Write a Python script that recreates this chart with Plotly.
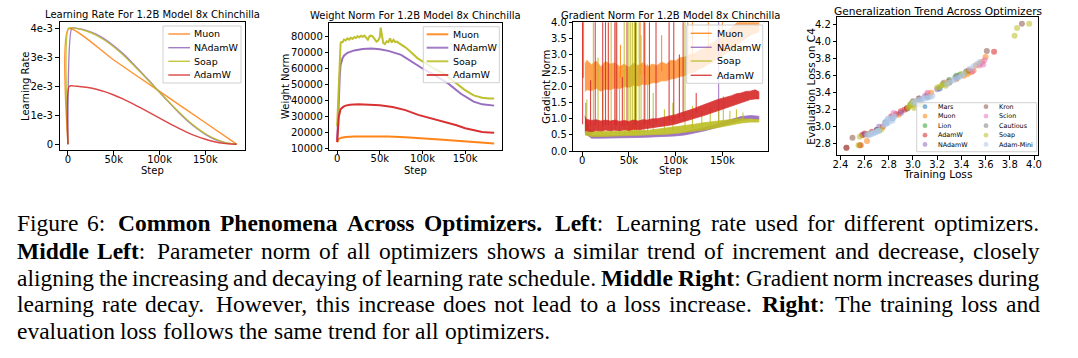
import numpy as np
import plotly.graph_objects as go

W, H = 1078, 358
OFF = 0  # body margin removed by post_script below


def fx(px):
    return (px - OFF) / W


def fy(py):
    return 1 - (py - OFF) / H


# ------------------------------------------------------------------ DATA
optimizers = ["Muon", "NAdamW", "Soap", "AdamW"]
opt_colors = ["#ff7f0e", "#9467bd", "#bcbd22", "#d62728"]

# --- Panel 1: learning rate schedules
lr_step_muon = [0, 1000, 50000, 100000, 150000, 184000]
lr_muon = [0, 3.98e-3, 2.90e-3, 1.82e-3, 0.74e-3, 0]
lr_step_nadamw = [0, 4400, 10000, 20000, 30000, 40000, 50000, 60000, 70000, 80000, 90000,
                  100000, 110000, 120000, 130000, 140000, 150000, 160000, 170000, 180000, 184000]
lr_nadamw = [0, 4.0e-3, 3.99e-3, 3.92e-3, 3.80e-3, 3.62e-3, 3.39e-3, 3.12e-3, 2.81e-3, 2.48e-3, 2.14e-3,
             1.79e-3, 1.45e-3, 1.12e-3, 0.82e-3, 0.56e-3, 0.34e-3, 0.17e-3, 0.06e-3, 0.01e-3, 0]
lr_step_soap = [0, 800, 10000, 20000, 30000, 40000, 50000, 60000, 70000, 80000, 90000,
                100000, 110000, 120000, 130000, 140000, 150000, 160000, 170000, 180000, 184000]
lr_soap = [0, 4.0e-3, 3.98e-3, 3.90e-3, 3.77e-3, 3.58e-3, 3.35e-3, 3.08e-3, 2.77e-3, 2.45e-3, 2.12e-3,
           1.79e-3, 1.46e-3, 1.14e-3, 0.84e-3, 0.58e-3, 0.36e-3, 0.19e-3, 0.07e-3, 0.01e-3, 0]
lr_step_adamw = [0, 1500, 10000, 20000, 30000, 40000, 50000, 60000, 70000, 80000, 90000,
                 100000, 110000, 120000, 130000, 140000, 150000, 160000, 170000, 180000, 184000]
lr_adamw = [0, 2.0e-3, 1.995e-3, 1.96e-3, 1.90e-3, 1.81e-3, 1.695e-3, 1.56e-3, 1.405e-3, 1.24e-3, 1.07e-3,
            0.895e-3, 0.725e-3, 0.56e-3, 0.41e-3, 0.28e-3, 0.17e-3, 0.085e-3, 0.03e-3, 0.003e-3, 0]

# --- Panel 2: weight norm
wn_step_muon = [0, 2000, 5000, 10000, 20000, 40000, 60000, 80000, 94000, 120000, 140000, 160000, 175000, 184000]
wn_muon = [14000, 16000, 16800, 17200, 17500, 17600, 17500, 17000, 16600, 15700, 14800, 13900, 13300, 13100]
wn_step_nadamw = [0, 1000, 2000, 3000, 4000, 6000, 8000, 12000, 20000, 30000, 40000, 50000, 60000,
                  75000, 90000, 100000, 115000, 130000, 145000, 160000, 170000, 178000, 184000]
wn_nadamw = [15000, 25000, 40000, 55000, 62000, 66000, 68000, 69800, 71300, 72200, 72500, 72000, 71000,
             68500, 63200, 60000, 55500, 50700, 44200, 39300, 37600, 37000, 36800]
wn_step_soap = [0, 1000, 2000, 3000, 4000, 5000, 6000, 8000, 10000, 12000, 14000, 16000, 18000, 20000,
                22000, 24000, 26000, 28000, 30000, 32000, 34000, 36000, 38000, 40000, 42000, 44000,
                46000, 48000, 50000, 51000, 52000, 53000, 54000, 56000, 58000, 60000, 62000, 64000,
                66000, 68000, 70000, 72000, 76000, 80000, 86000, 94000, 100000, 110000, 126000,
                140000, 149000, 160000, 170000, 178000, 184000]
wn_soap = [24000, 40000, 55000, 70000, 75500, 77000, 76000, 78000, 77500, 78800, 78000, 79200, 78500, 79600,
           79000, 80200, 79500, 80400, 79800, 80600, 79000, 78000, 80200, 80500, 79800, 78500,
           76800, 77500, 79500, 85500, 83000, 79000, 76000, 75200, 77000, 76500, 78800, 76200,
           77900, 76500, 76800, 76000, 74800, 73200, 70500, 66500, 64500, 61000, 56500,
           50500, 46800, 43200, 41700, 41300, 41200]
wn_step_adamw = [0, 1000, 2000, 4000, 7000, 10000, 15000, 25000, 35000, 50000, 65000, 80000, 95000,
                 110000, 125000, 140000, 150000, 160000, 170000, 178000, 184000]
wn_adamw = [14000, 22000, 30000, 34500, 36000, 36800, 37300, 37700, 37500, 37000, 36000, 34000, 31000,
            28800, 27000, 24500, 22700, 21300, 20300, 20000, 19800]

# --- Panel 3: gradient norm (noise band low/high + spikes)
gn_step_fine = [3000, 5000, 10000, 15000, 20000, 25000, 30000, 35000, 40000, 45000, 50000, 55000, 60000,
                65000, 70000, 75000, 80000, 85000, 90000, 95000, 100000, 105000, 110000, 115000, 120000,
                125000, 130000, 135000, 140000, 145000, 150000, 155000, 160000, 165000, 170000, 175000,
                180000, 185000, 189000]
gn_muon_lo = [1.85, 1.90, 1.88, 1.95, 1.86, 1.93, 1.90, 1.96, 1.94, 2.00, 1.98, 2.04, 2.02,
              2.08, 2.06, 2.12, 2.12, 2.18, 2.18, 2.24, 2.26, 2.32, 2.34, 2.42, 2.45,
              2.55, 2.60, 2.70, 2.76, 2.88, 2.95, 3.06, 3.15, 3.28, 3.40, 3.50,
              3.60, 3.66, 3.70]
gn_muon_hi = [2.70, 2.82, 2.68, 2.80, 2.62, 2.78, 2.70, 2.74, 2.62, 2.70, 2.60, 2.72, 2.66,
              2.74, 2.62, 2.70, 2.66, 2.76, 2.70, 2.82, 2.80, 2.90, 2.92, 3.00, 3.02,
              3.12, 3.18, 3.30, 3.36, 3.50, 3.58, 3.72, 3.84, 3.98, 4.10, 4.20,
              4.30, 4.35, 4.40]
gn_adamw_lo = [0.62, 0.63, 0.60, 0.64, 0.62, 0.65, 0.63, 0.65, 0.63, 0.66, 0.64, 0.67, 0.66,
               0.68, 0.69, 0.71, 0.73, 0.76, 0.78, 0.81, 0.84, 0.88, 0.92, 0.96, 1.00,
               1.05, 1.10, 1.15, 1.20, 1.25, 1.30, 1.35, 1.40, 1.45, 1.50, 1.55,
               1.60, 1.62, 1.62]
gn_adamw_hi = [1.05, 0.98, 0.95, 0.97, 0.93, 0.96, 0.93, 0.96, 0.92, 0.95, 0.92, 0.96, 0.93,
               0.97, 0.96, 1.00, 1.00, 1.05, 1.06, 1.10, 1.13, 1.18, 1.22, 1.28, 1.32,
               1.38, 1.43, 1.50, 1.55, 1.60, 1.64, 1.69, 1.72, 1.78, 1.80, 1.85,
               1.86, 1.90, 1.84]
gn_step = [3000, 10000, 20000, 30000, 40000, 50000, 60000, 70000, 80000, 90000, 100000,
           110000, 120000, 130000, 140000, 150000, 160000, 170000, 180000, 189000]
gn_nadamw_lo = [0.55, 0.40, 0.40, 0.40, 0.41, 0.41, 0.42, 0.43, 0.44, 0.45, 0.47,
                0.50, 0.55, 0.62, 0.70, 0.79, 0.88, 0.96, 1.00, 0.98]
gn_nadamw_hi = [1.10, 0.48, 0.47, 0.47, 0.48, 0.48, 0.49, 0.50, 0.51, 0.52, 0.54,
                0.58, 0.64, 0.72, 0.80, 0.90, 0.99, 1.07, 1.10, 1.08]
gn_soap_lo = [0.50, 0.45, 0.45, 0.46, 0.46, 0.47, 0.48, 0.48, 0.50, 0.52, 0.55,
              0.58, 0.61, 0.65, 0.70, 0.76, 0.82, 0.87, 0.90, 0.90]
gn_soap_hi = [0.90, 0.62, 0.60, 0.61, 0.62, 0.62, 0.63, 0.64, 0.67, 0.70, 0.75,
              0.79, 0.83, 0.88, 0.92, 0.95, 0.98, 1.00, 1.00, 0.98]
# spikes: (step, peak value)
spk_muon_step = [500, 1500, 41000, 62000, 66000, 85000, 113000, 118000, 135000, 150000]
spk_muon_val = [4.5, 4.5, 3.3, 4.5, 4.5, 3.6, 4.5, 4.5, 4.5, 4.5]
spk_nadamw_step = [4000, 146000]
spk_nadamw_val = [1.5, 4.5]
spk_soap_step = [5000, 12000, 17000, 22000, 31000, 36000, 40000, 45000, 50000, 52000, 54000, 56000,
                 58000, 61000, 63000, 66000, 70000, 76000, 88000, 97000, 110000, 118000, 128000,
                 137000, 146000, 151000, 158000, 165000, 172000]
spk_soap_val = [1.6, 4.5, 2.9, 2.2, 4.5, 4.5, 2.4, 4.5, 4.5, 4.5, 4.5, 4.5,
                4.5, 4.5, 3.6, 4.5, 2.7, 1.8, 1.3, 1.5, 4.5, 1.4, 1.25,
                1.35, 1.3, 1.7, 1.25, 1.3, 1.2]
spk_adamw_step = [500, 9000, 14000, 22000, 25000, 28000, 35000, 37000, 43000, 48000, 57000, 67000,
                  72000, 79000, 93000, 98000, 104000, 108000, 122000]
spk_adamw_val = [4.5, 2.2, 4.5, 4.5, 4.5, 4.5, 4.5, 4.5, 2.3, 4.5, 4.5, 4.5,
                 4.5, 4.5, 4.5, 4.5, 3.0, 4.5, 1.8]

# --- Panel 4: generalization scatter (training loss, eval loss on C4)
sc_names = ["Mars", "Muon", "Lion", "AdamW", "NAdamW", "Kron", "Scion", "Cautious", "Soap", "Adam-Mini"]
sc_colors = ["#1f77b4", "#ff7f0e", "#2ca02c", "#d62728", "#9467bd", "#8c564b", "#e377c2", "#7f7f7f",
             "#bcbd22", "#aec7e8"]
tr_mars = [2.63, 2.70, 2.78, 2.83, 2.95, 3.05, 3.12, 3.22, 3.30, 3.36, 3.44]
ev_mars = [2.91, 2.96, 3.05, 3.10, 3.21, 3.30, 3.35, 3.45, 3.52, 3.57, 3.65]
tr_muon = [2.57, 2.62, 2.59, 2.88, 3.12, 3.15, 3.36, 3.42, 3.45, 3.48, 3.50, 3.52, 3.55, 3.57, 3.60]
ev_muon = [2.78, 2.83, 2.90, 3.14, 3.38, 3.40, 3.56, 3.60, 3.62, 3.64, 3.66, 3.72, 3.74, 3.76, 3.82]
tr_lion = [2.98, 3.25, 3.30, 3.36, 3.39]
ev_lion = [3.26, 3.51, 3.55, 3.60, 3.61]
tr_adamw = [2.45, 2.56, 2.58, 2.60, 2.66, 2.75, 2.82, 2.86, 2.90, 2.93, 2.95, 3.05, 3.30, 3.46, 3.67]
ev_adamw = [2.75, 2.78, 2.90, 2.92, 2.94, 3.00, 3.12, 3.15, 3.18, 3.20, 3.22, 3.33, 3.53, 3.66, 3.88]
tr_nadamw = [2.60, 2.72, 2.90, 3.10, 3.20, 3.38]
ev_nadamw = [2.91, 3.00, 3.16, 3.36, 3.44, 3.60]
tr_kron = [2.45, 2.50, 2.70, 3.00, 3.61, 3.90]
ev_kron = [2.75, 2.87, 2.96, 3.30, 3.89, 4.21]
tr_scion = [2.84, 3.12, 3.26, 3.49, 3.55, 3.58, 3.59]
ev_scion = [3.16, 3.40, 3.52, 3.65, 3.72, 3.73, 3.78]
tr_cautious = [2.77, 3.05, 3.35]
ev_cautious = [3.05, 3.33, 3.58]
tr_soap = [2.55, 2.56, 2.63, 2.72, 2.74, 2.96, 2.97, 2.98, 2.99, 3.00, 3.01, 3.02, 3.03, 3.05, 3.06,
           3.20, 3.22, 3.24, 3.26, 3.28, 3.30, 3.27, 3.40, 3.44, 3.84, 3.86, 3.96]
ev_soap = [2.78, 2.88, 2.91, 2.95, 2.97, 3.22, 3.24, 3.26, 3.28, 3.25, 3.22, 3.29, 3.27, 3.30, 3.26,
           3.46, 3.47, 3.49, 3.50, 3.51, 3.52, 3.48, 3.62, 3.64, 4.07, 4.16, 4.21]
tr_adammini = [2.62, 2.64, 2.65, 2.66, 2.67, 2.68, 2.69, 2.70, 2.71, 2.72,
               2.76, 2.77, 2.78, 2.79, 2.80, 2.82, 2.84, 2.78, 2.80, 2.83, 2.85,
               3.00, 3.02, 3.04, 3.06, 3.08, 3.10, 3.12, 3.14, 3.16, 3.03, 3.07,
               3.28, 3.30, 3.32, 3.34, 3.36, 3.38, 3.40, 3.42,
               3.47, 3.50, 3.53, 3.55]
ev_adammini = [2.90, 2.90, 2.91, 2.92, 2.92, 2.93, 2.93, 2.94, 2.95, 2.95,
               3.02, 3.04, 3.07, 3.09, 3.10, 3.10, 3.11, 3.03, 3.05, 3.07, 3.12,
               3.28, 3.30, 3.31, 3.32, 3.33, 3.33, 3.34, 3.35, 3.36, 3.27, 3.29,
               3.50, 3.52, 3.54, 3.55, 3.57, 3.58, 3.60, 3.62,
               3.68, 3.71, 3.74, 3.76]
sc_train = [tr_mars, tr_muon, tr_lion, tr_adamw, tr_nadamw, tr_kron, tr_scion, tr_cautious, tr_soap, tr_adammini]
sc_eval = [ev_mars, ev_muon, ev_lion, ev_adamw, ev_nadamw, ev_kron, ev_scion, ev_cautious, ev_soap, ev_adammini]

step_ticks = [0, 50000, 100000, 150000]
step_ticktext = ["0", "50k", "100k", "150k"]

caption_lines = [
    "Figure 6: <b>Common Phenomena Across Optimizers.</b> <b>Left</b>: Learning rate used for different optimizers.",
    "<b>Middle Left</b>: Parameter norm of all optimizers shows a similar trend of increment and decrease, closely",
    "aligning the increasing and decaying of learning rate schedule. <b>Middle Right</b>: Gradient norm increases during",
    "learning rate decay. However, this increase does not lead to a loss increase. <b>Right</b>: The training loss and",
    "evaluation loss follows the same trend for all optimizers.",
]
caption_justified = [True, True, True, True, False]

# ------------------------------------------------------------------ FIGURE
fig = go.Figure()

FONT = "DejaVu Sans"


def axis_style(size=10):
    return dict(showline=True, mirror=True, linecolor="black", linewidth=1, ticks="outside",
                ticklen=3.5, tickwidth=0.9, tickcolor="black", showgrid=False, zeroline=False,
                automargin=False, tickfont=dict(family=FONT, size=size, color="black"))


# Panel 1
lr_data = [(lr_step_muon, lr_muon), (lr_step_nadamw, lr_nadamw), (lr_step_soap, lr_soap),
           (lr_step_adamw, lr_adamw)]
for name, col, (xs, ys) in zip(optimizers, opt_colors, lr_data):
    fig.add_trace(go.Scatter(x=xs, y=ys, mode="lines", name=name, showlegend=False,
                             line=dict(color=col, width=1.4, shape="spline", smoothing=0.6),
                             opacity=0.85, xaxis="x", yaxis="y"))

# Panel 2
wn_data = [(wn_step_muon, wn_muon), (wn_step_nadamw, wn_nadamw), (wn_step_soap, wn_soap),
           (wn_step_adamw, wn_adamw)]
for name, col, (xs, ys) in zip(optimizers, opt_colors, wn_data):
    fig.add_trace(go.Scatter(x=xs, y=ys, mode="lines", name=name, showlegend=False,
                             line=dict(color=col, width=2.0), opacity=0.95, xaxis="x2", yaxis="y2"))

# Panel 3
gn_bands = [(gn_step_fine, gn_muon_lo, gn_muon_hi), (gn_step, gn_nadamw_lo, gn_nadamw_hi),
            (gn_step, gn_soap_lo, gn_soap_hi), (gn_step_fine, gn_adamw_lo, gn_adamw_hi)]
gn_spikes = [(spk_muon_step, spk_muon_val), (spk_nadamw_step, spk_nadamw_val),
             (spk_soap_step, spk_soap_val), (spk_adamw_step, spk_adamw_val)]
band_opacity = [0.72, 0.9, 0.9, 0.9]
for name, col, (bx, lo, hi), (ss, sv), bo in zip(optimizers, opt_colors, gn_bands, gn_spikes, band_opacity):
    mid = (np.array(lo) + np.array(hi)) / 2
    base = np.interp(ss, bx, mid)
    sx, sy = [], []
    for s, b, v in zip(ss, base, sv):
        sx += [s, s, None]
        sy += [b, v, None]
    fig.add_trace(go.Scatter(x=sx, y=sy, mode="lines", showlegend=False,
                             line=dict(color=col, width=1.1), opacity=0.85, xaxis="x3", yaxis="y3"))
    px_ = list(bx) + list(bx)[::-1]
    py_ = list(lo) + list(hi)[::-1]
    fig.add_trace(go.Scatter(x=px_, y=py_, mode="lines", fill="toself", fillcolor=col, showlegend=False,
                             line=dict(color=col, width=0.8), opacity=bo, xaxis="x3", yaxis="y3"))

# Panel 4
for name, col, tr, ev in zip(sc_names, sc_colors, sc_train, sc_eval):
    fig.add_trace(go.Scatter(x=tr, y=ev, mode="markers", name=name, showlegend=False,
                             marker=dict(color=col, size=6, opacity=0.55, line=dict(width=0)),
                             xaxis="x4", yaxis="y4"))

# ------------------------------------------------------------------ AXES
dom = {
    1: ((59.5, 245.0), (22.3, 150.0)),
    2: ((329.3, 502.0), (22.7, 149.5)),
    3: ((573.3, 767.7), (22.3, 151.0)),
    4: ((837.3, 1038.3), (16.7, 155.0)),
}
layout = {}
for i, ((x0, x1), (y0, y1)) in dom.items():
    sfx = "" if i == 1 else str(i)
    layout["xaxis" + sfx] = dict(domain=[fx(x0), fx(x1)], anchor="y" + sfx, ticklabelstandoff=-4,
                                 **axis_style())
    layout["yaxis" + sfx] = dict(domain=[fy(y1), fy(y0)], anchor="x" + sfx, **axis_style())

layout["xaxis"].update(range=[-9200, 193200], tickvals=step_ticks, ticktext=step_ticktext)
layout["yaxis"].update(range=[-0.2e-3, 4.2e-3], tickvals=[0, 1e-3, 2e-3, 3e-3, 4e-3],
                       ticktext=["0", "1e-3", "2e-3", "3e-3", "4e-3"])
layout["xaxis2"].update(range=[-9200, 193200], tickvals=step_ticks, ticktext=step_ticktext)
layout["yaxis2"].update(range=[9400, 88600], tickvals=[10000, 20000, 30000, 40000, 50000, 60000, 70000, 80000],
                        ticktext=["10000", "20000", "30000", "40000", "50000", "60000", "70000", "80000"])
layout["xaxis3"].update(range=[-9450, 198450], tickvals=step_ticks, ticktext=step_ticktext)
layout["yaxis3"].update(range=[0, 4.0], tick0=0, dtick=0.5, tickformat=".1f")
layout["xaxis4"].update(range=[2.3745, 4.0355], tickvals=[2.4, 2.6, 2.8, 3.0, 3.2, 3.4, 3.6, 3.8, 4.0],
                        tickformat=".1f")
layout["yaxis4"].update(range=[2.666, 4.294], tickvals=[2.8, 3.0, 3.2, 3.4, 3.6, 3.8, 4.0, 4.2],
                        tickformat=".1f")

annotations = []
shapes = []


def text(px, py, s, size=10, angle=0, xanchor="center", yanchor="middle", family=FONT):
    annotations.append(dict(x=fx(px), y=fy(py), xref="paper", yref="paper", text=s, showarrow=False,
                            xanchor=xanchor, yanchor=yanchor, textangle=angle, borderpad=0, borderwidth=0,
                            font=dict(family=family, size=size, color="black")))


# titles
text(152.2, 14.8, "Learning Rate For 1.2B Model 8x Chinchilla")
text(415.6, 15.5, "Weight Norm For 1.2B Model 8x Chinchilla")
text(670.5, 15.0, "Gradient Norm For 1.2B Model 8x Chinchilla")
text(937.8, 10.8, "Generalization Trend Across Optimizers", size=10.6)
# axis labels
text(25, 86, "Learning Rate", angle=-90)
text(152.2, 170, "Step")
text(286, 87, "Weight Norm", angle=-90)
text(415.6, 170, "Step")
text(546.7, 87, "Gradient Norm", angle=-90)
text(670.5, 170.7, "Step")
text(810.7, 86, "Evaluation Loss on C4", size=10.6, angle=-90)
text(937.8, 173.5, "Training Loss", size=10.6)


# legends for line panels
def line_legend(box, rows, lx0, lx1, tx, lw):
    x0, y0, x1, y1 = box
    shapes.append(dict(type="rect", xref="paper", yref="paper", x0=fx(x0), x1=fx(x1), y0=fy(y1), y1=fy(y0),
                       line=dict(color="#d0d0d0", width=1), fillcolor="rgba(255,255,255,0.8)", layer="above"))
    for name, col, ry in zip(optimizers, opt_colors, rows):
        shapes.append(dict(type="line", xref="paper", yref="paper", x0=fx(lx0), x1=fx(lx1), y0=fy(ry), y1=fy(ry),
                           line=dict(color=col, width=lw), opacity=0.85, layer="above"))
        text(tx, ry, name, size=9.5, xanchor="left")


line_legend((163, 26, 241, 83), [34, 47.7, 61.3, 75], 168.3, 190, 194.3, 1.4)
line_legend((423.3, 26.7, 499.3, 82.7), [34.3, 47.7, 61.3, 75], 426.7, 448.3, 453.3, 2.0)
line_legend((686.7, 25, 762.7, 83.3), [33.3, 47.3, 61, 75.3], 690.7, 711.7, 716.7, 1.4)

# scatter legend
shapes.append(dict(type="rect", xref="paper", yref="paper", x0=fx(916.7), x1=fx(1036.7), y0=fy(151.7),
                   y1=fy(102.7), line=dict(color="#d0d0d0", width=1), fillcolor="rgba(255,255,255,0.8)",
                   layer="above"))
leg_rows = [106.7, 116.2, 125.7, 135.2, 144.5]
for k, (name, col) in enumerate(zip(sc_names, sc_colors)):
    colx, textx = (925, 937.7) if k < 5 else (986, 998.7)
    ry = leg_rows[k % 5]
    r = 2.4
    shapes.append(dict(type="circle", xref="paper", yref="paper", x0=fx(colx - r), x1=fx(colx + r),
                       y0=fy(ry + r), y1=fy(ry - r), fillcolor=col, opacity=0.55, line=dict(width=0),
                       layer="above"))
    text(textx, ry, name, size=6.4, xanchor="left")

# ------------------------------------------------------------------ CAPTION (justified, word by word)
_TR = {' ': 250, '.': 250, ',': 250, ':': 278, '-': 333, '0': 500, '1': 500, '2': 500, '3': 500,
       '4': 500, '5': 500, '6': 500, '7': 500, '8': 500, '9': 500,
       'a': 444, 'b': 500, 'c': 444, 'd': 500, 'e': 444, 'f': 333, 'g': 500, 'h': 500, 'i': 278,
       'j': 278, 'k': 500, 'l': 278, 'm': 778, 'n': 500, 'o': 500, 'p': 500, 'q': 500, 'r': 333,
       's': 389, 't': 278, 'u': 500, 'v': 500, 'w': 722, 'x': 500, 'y': 500, 'z': 444,
       'A': 722, 'B': 667, 'C': 667, 'D': 722, 'E': 611, 'F': 556, 'G': 722, 'H': 722, 'I': 333,
       'J': 389, 'K': 722, 'L': 611, 'M': 889, 'N': 722, 'O': 722, 'P': 556, 'Q': 722, 'R': 667,
       'S': 556, 'T': 611, 'U': 722, 'V': 722, 'W': 944, 'X': 722, 'Y': 722, 'Z': 611}
_TB = {' ': 250, '.': 250, ',': 250, ':': 333, '-': 333, '0': 500, '1': 500, '2': 500, '3': 500,
       '4': 500, '5': 500, '6': 500, '7': 500, '8': 500, '9': 500,
       'a': 500, 'b': 556, 'c': 444, 'd': 556, 'e': 444, 'f': 333, 'g': 500, 'h': 556, 'i': 278,
       'j': 333, 'k': 556, 'l': 278, 'm': 833, 'n': 556, 'o': 500, 'p': 556, 'q': 556, 'r': 444,
       's': 389, 't': 333, 'u': 556, 'v': 500, 'w': 722, 'x': 500, 'y': 500, 'z': 444,
       'A': 722, 'B': 667, 'C': 722, 'D': 722, 'E': 667, 'F': 611, 'G': 778, 'H': 778, 'I': 389,
       'J': 500, 'K': 778, 'L': 667, 'M': 944, 'N': 722, 'O': 778, 'P': 611, 'Q': 778, 'R': 722,
       'S': 556, 'T': 667, 'U': 722, 'V': 722, 'W': 1000, 'X': 722, 'Y': 722, 'Z': 667}


def parse_words(line):
    words, cur, buf, bold, i = [], [], "", False, 0
    while i < len(line):
        if line.startswith("<b>", i):
            if buf:
                cur.append((buf, bold))
                buf = ""
            bold, i = True, i + 3
            continue
        if line.startswith("</b>", i):
            if buf:
                cur.append((buf, bold))
                buf = ""
            bold, i = False, i + 4
            continue
        ch = line[i]
        if ch == " ":
            if buf:
                cur.append((buf, bold))
                buf = ""
            if cur:
                words.append(cur)
                cur = []
        else:
            buf += ch
        i += 1
    if buf:
        cur.append((buf, bold))
    if cur:
        words.append(cur)
    return words


CAP_SIZE = 23.5
CAP_LEFT, CAP_RIGHT = 16.7, 1039.5
cap_y = [223.3, 250.5, 277.5, 304.3, 331.0]
for line, just, cy in zip(caption_lines, caption_justified, cap_y):
    words = parse_words(line)
    widths = [sum(sum((_TB if b else _TR).get(c, 500) for c in t) for t, b in w) * CAP_SIZE / 1000
              for w in words]
    ends_sentence = [w[-1][0][-1] in ".:" for w in words]
    nat_space = 0.25 * CAP_SIZE
    if just:
        extra = (CAP_RIGHT - CAP_LEFT) - sum(widths) - nat_space * (len(words) - 1)
        wts = [(2.0 if extra > 0 else 0.5) if ends_sentence[k] else 1.0 for k in range(len(words) - 1)]
        gaps = [nat_space + extra * wt / sum(wts) for wt in wts]
    else:
        gaps = [nat_space] * (len(words) - 1)
    x = CAP_LEFT
    for k, (w, wd) in enumerate(zip(words, widths)):
        html = "".join(f"<b>{t}</b>" if b else t for t, b in w)
        text(x, cy, html, size=CAP_SIZE, xanchor="left", family="Liberation Serif")
        if k < len(gaps):
            x += wd + gaps[k]

fig.update_layout(width=W, height=H, margin=dict(l=0, r=0, t=0, b=0, autoexpand=False),
                  paper_bgcolor="white", plot_bgcolor="white", showlegend=False, hovermode=False,
                  annotations=annotations, shapes=shapes, **layout)

fig.write_html("out.html", config={"displayModeBar": False},
               post_script="document.body.style.margin='0px';")
